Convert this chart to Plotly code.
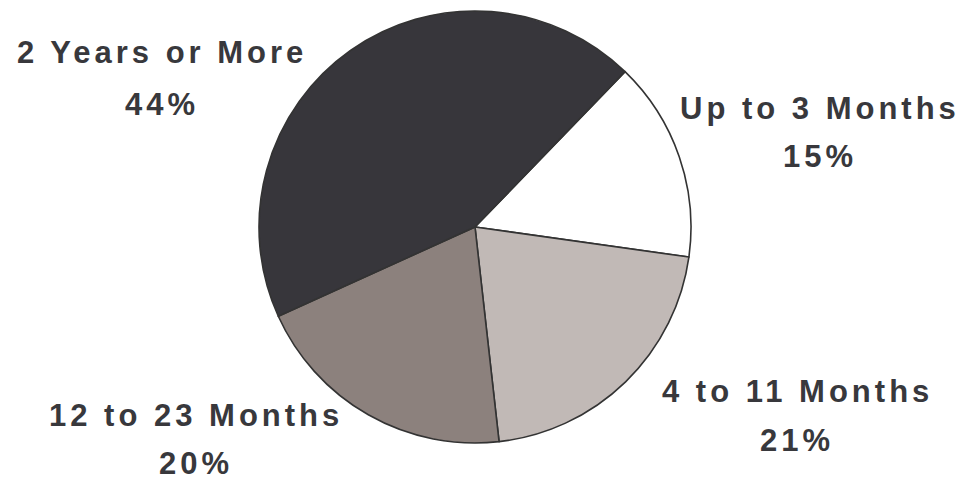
import plotly.graph_objects as go

# Share of respondents by duration
labels = ["Up to 3 Months", "4 to 11 Months", "12 to 23 Months", "2 Years or More"]
values = [15, 21, 20, 44]
colors = ["#ffffff", "#c1b9b6", "#8c817d", "#37363b"]

W, H = 966, 481
cx, cy, r = 475, 227, 216

# Pixel centres of the two text lines (name, percentage) for each slice
label_pos = [
    (820, 108, 156),
    (797, 391, 440),
    (196, 415, 463),
    (162, 53, 104),
]

fig = go.Figure(
    go.Pie(
        labels=labels,
        values=values,
        sort=False,
        direction="clockwise",
        rotation=44,
        marker=dict(colors=colors, line=dict(color="#333333", width=1.6)),
        textinfo="none",
        hoverinfo="label+percent",
        domain=dict(
            x=[(cx - r) / W, (cx + r) / W],
            y=[1 - (cy + r) / H, 1 - (cy - r) / H],
        ),
        showlegend=False,
    )
)

font = dict(family="Arial, Liberation Sans, sans-serif", size=31, color="#38383c")
spaced = '<span style="letter-spacing:4px"><b>{}</b></span>'

for lab, val, (x, y1, y2) in zip(labels, values, label_pos):
    for txt, yy in ((lab, y1), (f"{val}%", y2)):
        fig.add_annotation(
            text=spaced.format(txt),
            x=x / W, y=1 - yy / H,
            xref="paper", yref="paper",
            xanchor="center", yanchor="middle",
            showarrow=False, font=font,
        )

fig.update_layout(
    width=W, height=H,
    margin=dict(l=0, r=0, t=0, b=0),
    paper_bgcolor="white", plot_bgcolor="white",
)

fig.write_html("out.html")
